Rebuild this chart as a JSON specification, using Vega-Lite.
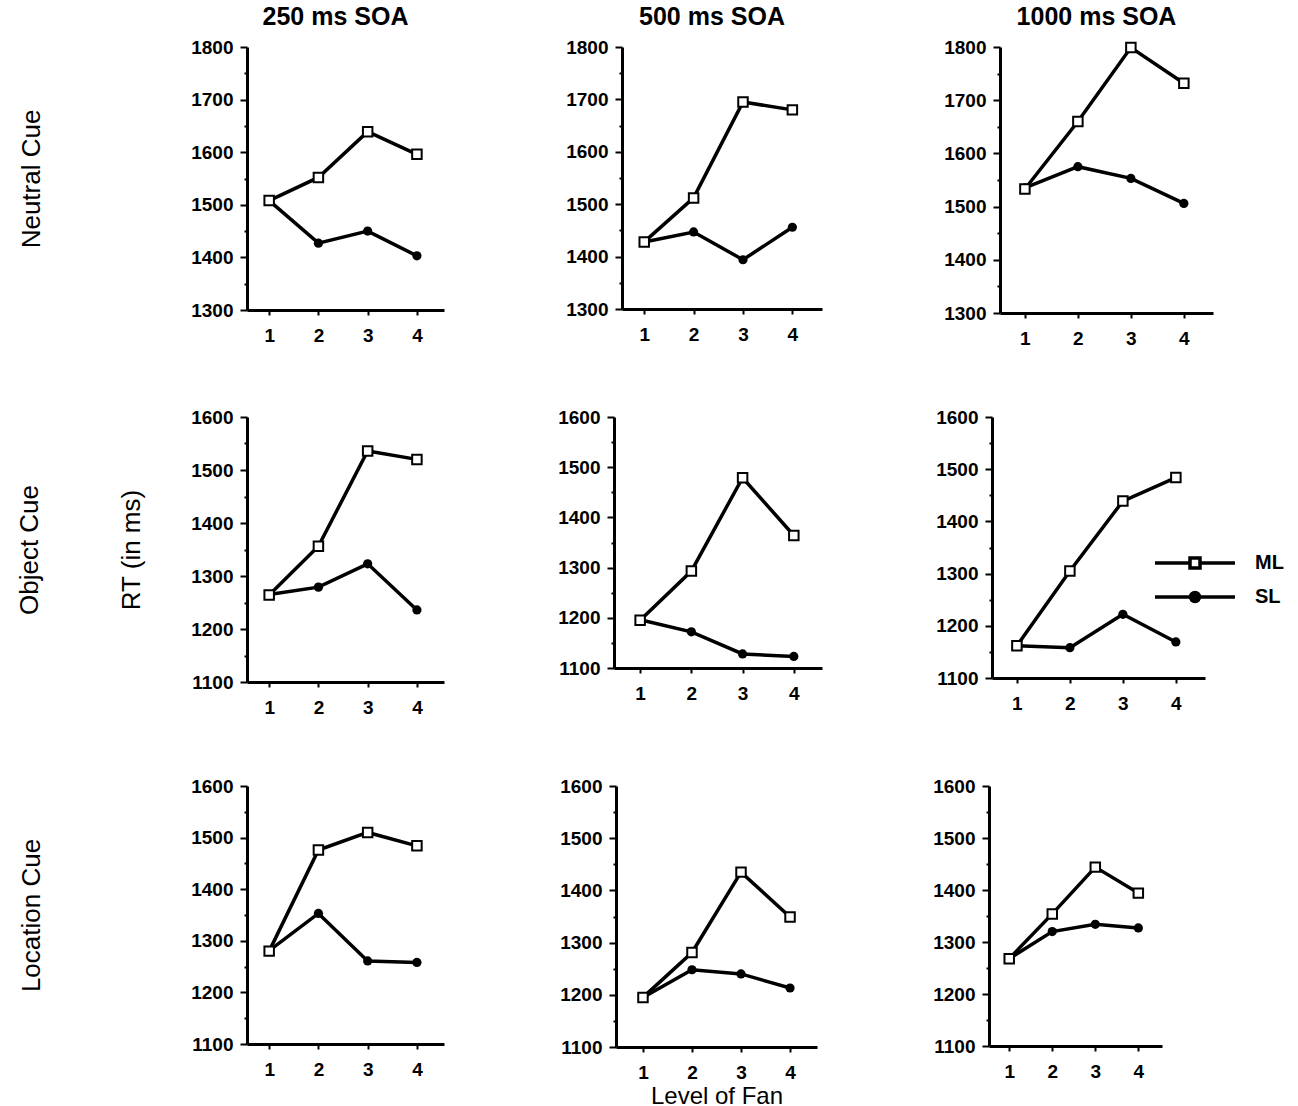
{
  "$schema": "https://vega.github.io/schema/vega-lite/v6.json",
  "background": "white",
  "padding": {"left": 16, "top": 5, "right": 5, "bottom": 1},
  "datasets": {
    "rt": [
      {"soa": "250", "cue": "Neutral", "fan": 1, "cond": "ML", "rt": 1508},
      {"soa": "250", "cue": "Neutral", "fan": 2, "cond": "ML", "rt": 1552},
      {"soa": "250", "cue": "Neutral", "fan": 3, "cond": "ML", "rt": 1639},
      {"soa": "250", "cue": "Neutral", "fan": 4, "cond": "ML", "rt": 1596},
      {"soa": "250", "cue": "Neutral", "fan": 1, "cond": "SL", "rt": 1508},
      {"soa": "250", "cue": "Neutral", "fan": 2, "cond": "SL", "rt": 1427},
      {"soa": "250", "cue": "Neutral", "fan": 3, "cond": "SL", "rt": 1450},
      {"soa": "250", "cue": "Neutral", "fan": 4, "cond": "SL", "rt": 1403},
      {"soa": "500", "cue": "Neutral", "fan": 1, "cond": "ML", "rt": 1428},
      {"soa": "500", "cue": "Neutral", "fan": 2, "cond": "ML", "rt": 1512},
      {"soa": "500", "cue": "Neutral", "fan": 3, "cond": "ML", "rt": 1695},
      {"soa": "500", "cue": "Neutral", "fan": 4, "cond": "ML", "rt": 1680},
      {"soa": "500", "cue": "Neutral", "fan": 1, "cond": "SL", "rt": 1428},
      {"soa": "500", "cue": "Neutral", "fan": 2, "cond": "SL", "rt": 1447},
      {"soa": "500", "cue": "Neutral", "fan": 3, "cond": "SL", "rt": 1394},
      {"soa": "500", "cue": "Neutral", "fan": 4, "cond": "SL", "rt": 1456},
      {"soa": "1000", "cue": "Neutral", "fan": 1, "cond": "ML", "rt": 1533},
      {"soa": "1000", "cue": "Neutral", "fan": 2, "cond": "ML", "rt": 1660},
      {"soa": "1000", "cue": "Neutral", "fan": 3, "cond": "ML", "rt": 1799},
      {"soa": "1000", "cue": "Neutral", "fan": 4, "cond": "ML", "rt": 1732},
      {"soa": "1000", "cue": "Neutral", "fan": 1, "cond": "SL", "rt": 1535},
      {"soa": "1000", "cue": "Neutral", "fan": 2, "cond": "SL", "rt": 1575},
      {"soa": "1000", "cue": "Neutral", "fan": 3, "cond": "SL", "rt": 1553},
      {"soa": "1000", "cue": "Neutral", "fan": 4, "cond": "SL", "rt": 1506},
      {"soa": "250", "cue": "Object", "fan": 1, "cond": "ML", "rt": 1264},
      {"soa": "250", "cue": "Object", "fan": 2, "cond": "ML", "rt": 1356},
      {"soa": "250", "cue": "Object", "fan": 3, "cond": "ML", "rt": 1536},
      {"soa": "250", "cue": "Object", "fan": 4, "cond": "ML", "rt": 1520},
      {"soa": "250", "cue": "Object", "fan": 1, "cond": "SL", "rt": 1265},
      {"soa": "250", "cue": "Object", "fan": 2, "cond": "SL", "rt": 1279},
      {"soa": "250", "cue": "Object", "fan": 3, "cond": "SL", "rt": 1323},
      {"soa": "250", "cue": "Object", "fan": 4, "cond": "SL", "rt": 1236},
      {"soa": "500", "cue": "Object", "fan": 1, "cond": "ML", "rt": 1195},
      {"soa": "500", "cue": "Object", "fan": 2, "cond": "ML", "rt": 1293},
      {"soa": "500", "cue": "Object", "fan": 3, "cond": "ML", "rt": 1479},
      {"soa": "500", "cue": "Object", "fan": 4, "cond": "ML", "rt": 1364},
      {"soa": "500", "cue": "Object", "fan": 1, "cond": "SL", "rt": 1196},
      {"soa": "500", "cue": "Object", "fan": 2, "cond": "SL", "rt": 1172},
      {"soa": "500", "cue": "Object", "fan": 3, "cond": "SL", "rt": 1128},
      {"soa": "500", "cue": "Object", "fan": 4, "cond": "SL", "rt": 1123},
      {"soa": "1000", "cue": "Object", "fan": 1, "cond": "ML", "rt": 1162},
      {"soa": "1000", "cue": "Object", "fan": 2, "cond": "ML", "rt": 1305},
      {"soa": "1000", "cue": "Object", "fan": 3, "cond": "ML", "rt": 1439},
      {"soa": "1000", "cue": "Object", "fan": 4, "cond": "ML", "rt": 1484},
      {"soa": "1000", "cue": "Object", "fan": 1, "cond": "SL", "rt": 1162},
      {"soa": "1000", "cue": "Object", "fan": 2, "cond": "SL", "rt": 1158},
      {"soa": "1000", "cue": "Object", "fan": 3, "cond": "SL", "rt": 1222},
      {"soa": "1000", "cue": "Object", "fan": 4, "cond": "SL", "rt": 1169},
      {"soa": "250", "cue": "Location", "fan": 1, "cond": "ML", "rt": 1280},
      {"soa": "250", "cue": "Location", "fan": 2, "cond": "ML", "rt": 1476},
      {"soa": "250", "cue": "Location", "fan": 3, "cond": "ML", "rt": 1510},
      {"soa": "250", "cue": "Location", "fan": 4, "cond": "ML", "rt": 1484},
      {"soa": "250", "cue": "Location", "fan": 1, "cond": "SL", "rt": 1281},
      {"soa": "250", "cue": "Location", "fan": 2, "cond": "SL", "rt": 1353},
      {"soa": "250", "cue": "Location", "fan": 3, "cond": "SL", "rt": 1261},
      {"soa": "250", "cue": "Location", "fan": 4, "cond": "SL", "rt": 1258},
      {"soa": "500", "cue": "Location", "fan": 1, "cond": "ML", "rt": 1195},
      {"soa": "500", "cue": "Location", "fan": 2, "cond": "ML", "rt": 1281},
      {"soa": "500", "cue": "Location", "fan": 3, "cond": "ML", "rt": 1435},
      {"soa": "500", "cue": "Location", "fan": 4, "cond": "ML", "rt": 1349},
      {"soa": "500", "cue": "Location", "fan": 1, "cond": "SL", "rt": 1195},
      {"soa": "500", "cue": "Location", "fan": 2, "cond": "SL", "rt": 1248},
      {"soa": "500", "cue": "Location", "fan": 3, "cond": "SL", "rt": 1240},
      {"soa": "500", "cue": "Location", "fan": 4, "cond": "SL", "rt": 1213},
      {"soa": "1000", "cue": "Location", "fan": 1, "cond": "ML", "rt": 1268},
      {"soa": "1000", "cue": "Location", "fan": 2, "cond": "ML", "rt": 1354},
      {"soa": "1000", "cue": "Location", "fan": 3, "cond": "ML", "rt": 1444},
      {"soa": "1000", "cue": "Location", "fan": 4, "cond": "ML", "rt": 1394},
      {"soa": "1000", "cue": "Location", "fan": 1, "cond": "SL", "rt": 1268},
      {"soa": "1000", "cue": "Location", "fan": 2, "cond": "SL", "rt": 1320},
      {"soa": "1000", "cue": "Location", "fan": 3, "cond": "SL", "rt": 1334},
      {"soa": "1000", "cue": "Location", "fan": 4, "cond": "SL", "rt": 1327}
    ]
  },
  "data": {"name": "rt"},
  "vconcat": [
    {
      "hconcat": [
        {
          "width": 197, "height": 263,
          "title": "250 ms SOA",
          "transform": [{"filter": "datum.soa === '250' && datum.cue === 'Neutral'"}],
          "encoding": {
            "x": {"field": "fan", "type": "quantitative", "scale": {"domain": [0.55, 4.55], "nice": false, "zero": false}, "axis": {"title": null, "values": [1, 2, 3, 4]}},
            "y": {"field": "rt", "type": "quantitative", "scale": {"domain": [1300, 1800], "nice": false, "zero": false},
                  "axis": {"title": "Neutral Cue", "titlePadding": 146, "format": "d", "values": [1300, 1350, 1400, 1450, 1500, 1550, 1600, 1650, 1700, 1750, 1800], "labelExpr": "datum.value % 100 === 0 ? datum.label : ''", "tickSize": {"condition": {"test": "datum.value % 100 === 0", "value": 7}, "value": 3}}}
          },
          "layer": [
            {"mark": {"type": "line", "color": "black", "strokeWidth": 3.5}, "encoding": {"detail": {"field": "cond"}}},
            {"transform": [{"filter": "datum.cond === 'SL'"}], "mark": {"type": "point", "shape": "circle", "filled": true, "color": "black", "opacity": 1, "size": 85}},
            {"transform": [{"filter": "datum.cond === 'ML'"}], "mark": {"type": "point", "shape": "square", "filled": true, "fill": "white", "stroke": "black", "strokeWidth": 2, "opacity": 1, "size": 90}}
          ]
        },
        {
          "width": 200, "height": 262,
          "title": "500 ms SOA",
          "transform": [{"filter": "datum.soa === '500' && datum.cue === 'Neutral'"}],
          "encoding": {
            "x": {"field": "fan", "type": "quantitative", "scale": {"domain": [0.55, 4.6], "nice": false, "zero": false}, "axis": {"title": null, "values": [1, 2, 3, 4]}},
            "y": {"field": "rt", "type": "quantitative", "scale": {"domain": [1300, 1800], "nice": false, "zero": false},
                  "axis": {"title": null, "format": "d", "values": [1300, 1350, 1400, 1450, 1500, 1550, 1600, 1650, 1700, 1750, 1800], "labelExpr": "datum.value % 100 === 0 ? datum.label : ''", "tickSize": {"condition": {"test": "datum.value % 100 === 0", "value": 7}, "value": 3}}}
          },
          "layer": [
            {"mark": {"type": "line", "color": "black", "strokeWidth": 3.5}, "encoding": {"detail": {"field": "cond"}}},
            {"transform": [{"filter": "datum.cond === 'SL'"}], "mark": {"type": "point", "shape": "circle", "filled": true, "color": "black", "opacity": 1, "size": 85}},
            {"transform": [{"filter": "datum.cond === 'ML'"}], "mark": {"type": "point", "shape": "square", "filled": true, "fill": "white", "stroke": "black", "strokeWidth": 2, "opacity": 1, "size": 90}}
          ]
        },
        {
          "width": 213, "height": 266,
          "title": "1000 ms SOA",
          "transform": [{"filter": "datum.soa === '1000' && datum.cue === 'Neutral'"}],
          "encoding": {
            "x": {"field": "fan", "type": "quantitative", "scale": {"domain": [0.53, 4.55], "nice": false, "zero": false}, "axis": {"title": null, "values": [1, 2, 3, 4]}},
            "y": {"field": "rt", "type": "quantitative", "scale": {"domain": [1300, 1800], "nice": false, "zero": false},
                  "axis": {"title": null, "format": "d", "values": [1300, 1350, 1400, 1450, 1500, 1550, 1600, 1650, 1700, 1750, 1800], "labelExpr": "datum.value % 100 === 0 ? datum.label : ''", "tickSize": {"condition": {"test": "datum.value % 100 === 0", "value": 7}, "value": 3}}}
          },
          "layer": [
            {"mark": {"type": "line", "color": "black", "strokeWidth": 3.5}, "encoding": {"detail": {"field": "cond"}}},
            {"transform": [{"filter": "datum.cond === 'SL'"}], "mark": {"type": "point", "shape": "circle", "filled": true, "color": "black", "opacity": 1, "size": 85}},
            {"transform": [{"filter": "datum.cond === 'ML'"}], "mark": {"type": "point", "shape": "square", "filled": true, "fill": "white", "stroke": "black", "strokeWidth": 2, "opacity": 1, "size": 90}}
          ]
        }
      ],
      "spacing": 121
    },
    {
      "hconcat": [
        {
          "width": 197, "height": 265,
          "transform": [{"filter": "datum.soa === '250' && datum.cue === 'Object'"}],
          "encoding": {
            "x": {"field": "fan", "type": "quantitative", "scale": {"domain": [0.55, 4.55], "nice": false, "zero": false}, "axis": {"title": null, "values": [1, 2, 3, 4]}},
            "y": {"field": "rt", "type": "quantitative", "scale": {"domain": [1100, 1600], "nice": false, "zero": false},
                  "axis": {"title": ["Object Cue", "RT (in ms)"], "titleLineHeight": 102, "titlePadding": 46, "format": "d", "values": [1100, 1150, 1200, 1250, 1300, 1350, 1400, 1450, 1500, 1550, 1600], "labelExpr": "datum.value % 100 === 0 ? datum.label : ''", "tickSize": {"condition": {"test": "datum.value % 100 === 0", "value": 7}, "value": 3}}}
          },
          "layer": [
            {"mark": {"type": "line", "color": "black", "strokeWidth": 3.5}, "encoding": {"detail": {"field": "cond"}}},
            {"transform": [{"filter": "datum.cond === 'SL'"}], "mark": {"type": "point", "shape": "circle", "filled": true, "color": "black", "opacity": 1, "size": 85}},
            {"transform": [{"filter": "datum.cond === 'ML'"}], "mark": {"type": "point", "shape": "square", "filled": true, "fill": "white", "stroke": "black", "strokeWidth": 2, "opacity": 1, "size": 90}}
          ]
        },
        {
          "width": 208, "height": 251,
          "transform": [{"filter": "datum.soa === '500' && datum.cue === 'Object'"}],
          "encoding": {
            "x": {"field": "fan", "type": "quantitative", "scale": {"domain": [0.49, 4.55], "nice": false, "zero": false}, "axis": {"title": null, "values": [1, 2, 3, 4]}},
            "y": {"field": "rt", "type": "quantitative", "scale": {"domain": [1100, 1600], "nice": false, "zero": false},
                  "axis": {"title": null, "format": "d", "values": [1100, 1150, 1200, 1250, 1300, 1350, 1400, 1450, 1500, 1550, 1600], "labelExpr": "datum.value % 100 === 0 ? datum.label : ''", "tickSize": {"condition": {"test": "datum.value % 100 === 0", "value": 7}, "value": 3}}}
          },
          "layer": [
            {"mark": {"type": "line", "color": "black", "strokeWidth": 3.5}, "encoding": {"detail": {"field": "cond"}}},
            {"transform": [{"filter": "datum.cond === 'SL'"}], "mark": {"type": "point", "shape": "circle", "filled": true, "color": "black", "opacity": 1, "size": 85}},
            {"transform": [{"filter": "datum.cond === 'ML'"}], "mark": {"type": "point", "shape": "square", "filled": true, "fill": "white", "stroke": "black", "strokeWidth": 2, "opacity": 1, "size": 90}}
          ]
        },
        {
          "width": 213, "height": 261,
          "transform": [{"filter": "datum.soa === '1000' && datum.cue === 'Object'"}],
          "encoding": {
            "x": {"field": "fan", "type": "quantitative", "scale": {"domain": [0.53, 4.55], "nice": false, "zero": false}, "axis": {"title": null, "values": [1, 2, 3, 4]}},
            "y": {"field": "rt", "type": "quantitative", "scale": {"domain": [1100, 1600], "nice": false, "zero": false},
                  "axis": {"title": null, "format": "d", "values": [1100, 1150, 1200, 1250, 1300, 1350, 1400, 1450, 1500, 1550, 1600], "labelExpr": "datum.value % 100 === 0 ? datum.label : ''", "tickSize": {"condition": {"test": "datum.value % 100 === 0", "value": 7}, "value": 3}}}
          },
          "layer": [
            {"mark": {"type": "line", "color": "black", "strokeWidth": 3.5}, "encoding": {"detail": {"field": "cond"}}},
            {"transform": [{"filter": "datum.cond === 'SL'"}], "mark": {"type": "point", "shape": "circle", "filled": true, "color": "black", "opacity": 1, "size": 85}},
            {"transform": [{"filter": "datum.cond === 'ML'"}], "mark": {"type": "point", "shape": "square", "filled": true, "fill": "white", "stroke": "black", "strokeWidth": 2, "opacity": 1, "size": 90}},
            {"transform": [{"filter": "false"}], "mark": {"type": "point", "stroke": "black", "strokeWidth": 3.5, "opacity": 1},
             "encoding": {
               "shape": {"field": "cond", "type": "nominal", "scale": {"domain": ["ML", "SL"], "range": ["M-8,0L-1,0M1,0L8,0M-1,-1L1,-1L1,1L-1,1Z", "M-8,0L8,0M-0.9,0A0.9,0.9,0,1,0,0.9,0A0.9,0.9,0,1,0,-0.9,0Z"]},
                         "legend": {"title": null, "orient": "none", "legendX": 938, "legendY": 506, "symbolSize": 100, "symbolStrokeWidth": 3.5, "labelFontSize": 20, "labelFont": "Liberation Sans", "labelFontWeight": "bold", "labelColor": "black", "labelOffset": 50, "rowPadding": 10,
                                    "encode": {"symbols": {"update": {"stroke": {"value": "black"}, "strokeWidth": {"value": 3.5}, "opacity": {"value": 1}}}}}},
               "fill": {"field": "cond", "type": "nominal", "scale": {"domain": ["ML", "SL"], "range": ["white", "black"]},
                        "legend": {"title": null, "orient": "none", "legendX": 938, "legendY": 506, "symbolSize": 100, "symbolStrokeWidth": 3.5, "labelFontSize": 20, "labelFont": "Liberation Sans", "labelFontWeight": "bold", "labelColor": "black", "labelOffset": 50, "rowPadding": 10,
                                   "encode": {"symbols": {"update": {"stroke": {"value": "black"}, "strokeWidth": {"value": 3.5}, "opacity": {"value": 1}}}}}}
             }}
          ]
        }
      ],
      "spacing": 113
    },
    {
      "hconcat": [
        {
          "width": 197, "height": 258,
          "transform": [{"filter": "datum.soa === '250' && datum.cue === 'Location'"}],
          "encoding": {
            "x": {"field": "fan", "type": "quantitative", "scale": {"domain": [0.55, 4.55], "nice": false, "zero": false}, "axis": {"title": null, "values": [1, 2, 3, 4]}},
            "y": {"field": "rt", "type": "quantitative", "scale": {"domain": [1100, 1600], "nice": false, "zero": false},
                  "axis": {"title": "Location Cue", "titlePadding": 146, "format": "d", "values": [1100, 1150, 1200, 1250, 1300, 1350, 1400, 1450, 1500, 1550, 1600], "labelExpr": "datum.value % 100 === 0 ? datum.label : ''", "tickSize": {"condition": {"test": "datum.value % 100 === 0", "value": 7}, "value": 3}}}
          },
          "layer": [
            {"mark": {"type": "line", "color": "black", "strokeWidth": 3.5}, "encoding": {"detail": {"field": "cond"}}},
            {"transform": [{"filter": "datum.cond === 'SL'"}], "mark": {"type": "point", "shape": "circle", "filled": true, "color": "black", "opacity": 1, "size": 85}},
            {"transform": [{"filter": "datum.cond === 'ML'"}], "mark": {"type": "point", "shape": "square", "filled": true, "fill": "white", "stroke": "black", "strokeWidth": 2, "opacity": 1, "size": 90}}
          ]
        },
        {
          "width": 201, "height": 261,
          "transform": [{"filter": "datum.soa === '500' && datum.cue === 'Location'"}],
          "encoding": {
            "x": {"field": "fan", "type": "quantitative", "scale": {"domain": [0.45, 4.55], "nice": false, "zero": false}, "axis": {"title": "Level of Fan", "values": [1, 2, 3, 4]}},
            "y": {"field": "rt", "type": "quantitative", "scale": {"domain": [1100, 1600], "nice": false, "zero": false},
                  "axis": {"title": null, "format": "d", "values": [1100, 1150, 1200, 1250, 1300, 1350, 1400, 1450, 1500, 1550, 1600], "labelExpr": "datum.value % 100 === 0 ? datum.label : ''", "tickSize": {"condition": {"test": "datum.value % 100 === 0", "value": 7}, "value": 3}}}
          },
          "layer": [
            {"mark": {"type": "line", "color": "black", "strokeWidth": 3.5}, "encoding": {"detail": {"field": "cond"}}},
            {"transform": [{"filter": "datum.cond === 'SL'"}], "mark": {"type": "point", "shape": "circle", "filled": true, "color": "black", "opacity": 1, "size": 85}},
            {"transform": [{"filter": "datum.cond === 'ML'"}], "mark": {"type": "point", "shape": "square", "filled": true, "fill": "white", "stroke": "black", "strokeWidth": 2, "opacity": 1, "size": 90}}
          ]
        },
        {
          "width": 173, "height": 260,
          "transform": [{"filter": "datum.soa === '1000' && datum.cue === 'Location'"}],
          "encoding": {
            "x": {"field": "fan", "type": "quantitative", "scale": {"domain": [0.53, 4.55], "nice": false, "zero": false}, "axis": {"title": null, "values": [1, 2, 3, 4]}},
            "y": {"field": "rt", "type": "quantitative", "scale": {"domain": [1100, 1600], "nice": false, "zero": false},
                  "axis": {"title": null, "format": "d", "values": [1100, 1150, 1200, 1250, 1300, 1350, 1400, 1450, 1500, 1550, 1600], "labelExpr": "datum.value % 100 === 0 ? datum.label : ''", "tickSize": {"condition": {"test": "datum.value % 100 === 0", "value": 7}, "value": 3}}}
          },
          "layer": [
            {"mark": {"type": "line", "color": "black", "strokeWidth": 3.5}, "encoding": {"detail": {"field": "cond"}}},
            {"transform": [{"filter": "datum.cond === 'SL'"}], "mark": {"type": "point", "shape": "circle", "filled": true, "color": "black", "opacity": 1, "size": 85}},
            {"transform": [{"filter": "datum.cond === 'ML'"}], "mark": {"type": "point", "shape": "square", "filled": true, "fill": "white", "stroke": "black", "strokeWidth": 2, "opacity": 1, "size": 90}}
          ]
        }
      ],
      "spacing": 115
    }
  ],
  "spacing": 60,
  "config": {
    "view": {"stroke": null},
    "title": {"font": "Liberation Sans", "fontSize": 25, "fontWeight": "bold", "color": "black", "offset": 8, "anchor": "middle", "dx": -10},
    "axis": {
      "grid": false,
      "domainColor": "black", "domainWidth": 3,
      "tickColor": "black", "tickWidth": 2,
      "labelFont": "Liberation Sans", "labelFontSize": 19, "labelFontWeight": "bold", "labelColor": "black",
      "titleColor": "black", "titleFontWeight": "normal"
    },
    "axisX": {"tickSize": 5, "labelPadding": 11, "titleFont": "Liberation Sans", "titleFontSize": 24, "titlePadding": 2},
    "axisY": {"labelPadding": 7, "titleFont": "Liberation Sans", "titleFontSize": 26}
  }
}
